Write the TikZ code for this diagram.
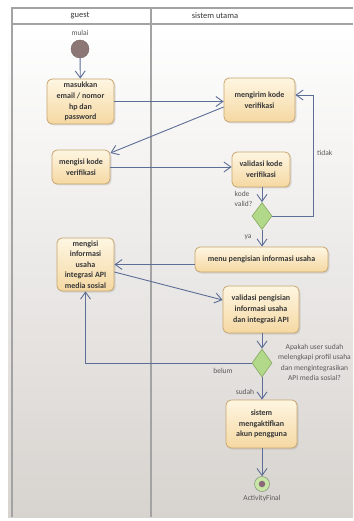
\documentclass[tikz,border=0pt]{standalone}
\usepackage{fontspec}
\setmainfont{Carlito}
\usetikzlibrary{arrows.meta,shapes.geometric,shadows}

\definecolor{framegray}{HTML}{A3A3A3}
\definecolor{lanebot}{HTML}{D7D3CF}
\definecolor{boxtop}{HTML}{FEF6E2}
\definecolor{boxbot}{HTML}{F5D8A2}
\definecolor{boxedge}{HTML}{C7A56E}
\definecolor{flow}{HTML}{5C6D96}
\definecolor{ink}{HTML}{383838}
\definecolor{note}{HTML}{5A5A5A}
\definecolor{decfill}{HTML}{B2D88A}
\definecolor{decedge}{HTML}{8BAE68}
\definecolor{startfill}{HTML}{8C7676}
\definecolor{finring}{HTML}{C9E6A6}
\definecolor{finedge}{HTML}{8A9A80}
\definecolor{findot}{HTML}{8A6A78}

\tikzset{
  lane/.style={draw=framegray, line width=1.3pt},
  act/.style={draw=boxedge, line width=0.8pt, rounded corners=5pt,
    top color=boxtop, bottom color=boxbot, text=ink, align=center,
    font=\fontsize{8}{10.8}\selectfont\bfseries, inner xsep=2pt, inner ysep=1pt,
    drop shadow={shadow xshift=1.5pt, shadow yshift=-1.5pt, opacity=0.22}},
  decision/.style={shape=diamond, draw=decedge, fill=decfill, line width=0.7pt,
    inner sep=0pt, minimum width=20pt, minimum height=27pt},
  arr/.style={draw=flow, line width=0.9pt,
    -{Straight Barb[length=7pt, width=10pt, line width=0.9pt]}},
  lbl/.style={font=\fontsize{7.5}{10}\selectfont, text=note, inner sep=0pt},
  head/.style={font=\fontsize{8.5}{10}\selectfont, text=ink, inner sep=0pt}
}

\begin{document}
\begin{tikzpicture}[x=1pt, y=-1pt]
  \useasboundingbox (0,0) rectangle (353,521);
  % background and swimlane frame
  \fill[white] (0,0) rectangle (353,521);
  \shade[top color=white, bottom color=lanebot] (8,24) rectangle (353,517);
  \draw[lane] (12,517) -- (12,8) -- (353,8);
  \draw[lane] (12,24) -- (353,24);
  \draw[lane] (151,8) -- (151,517);
  \node[head] (hguest) at (80,16) {guest};
  \node[head] (hsys) at (215,16) {sistem utama};

  % start
  \node[lbl] (lmulai) at (80,33) {mulai};
  \node[circle, fill=startfill, draw=startfill!85!black, line width=0.4pt,
        minimum size=18pt, inner sep=0pt] (start) at (80,49) {};

  % activities
  \node[act, minimum width=67pt, minimum height=45pt] (me) at (80.5,101.5)
    {masukkan\\email / nomor\\hp dan\\password};
  \node[act, minimum width=71pt, minimum height=44pt] (mg) at (259.5,100)
    {mengirim kode\\verifikasi};
  \node[act, minimum width=58pt, minimum height=34pt] (mk) at (81,167)
    {mengisi kode\\verifikasi};
  \node[act, minimum width=58pt, minimum height=35pt] (vk) at (261,169.5)
    {validasi kode\\verifikasi};
  \node[decision] (d1) at (262,216) {};
  \node[act, minimum width=133pt, minimum height=25pt] (menu) at (261.5,259.5)
    {menu pengisian informasi usaha};
  \node[act, minimum width=57pt, minimum height=53pt,
        font=\fontsize{8}{10.4}\selectfont\bfseries] (mi) at (85.5,264.5)
    {mengisi\\informasi\\usaha\\integrasi API\\media sosial};
  \node[act, minimum width=76pt, minimum height=47pt] (vp) at (261,309.5)
    {validasi pengisian\\informasi usaha\\dan integrasi API};
  \node[decision, minimum height=28pt] (d2) at (262,363) {};
  \node[act, minimum width=71pt, minimum height=48pt] (sa) at (261.5,424)
    {sistem\\mengaktifkan\\akun pengguna};

  % final node
  \node[circle, fill=finring, draw=finedge, line width=0.6pt,
        minimum size=15pt, inner sep=0pt] (fin) at (262,484) {};
  \node[circle, fill=findot, minimum size=6.5pt, inner sep=0pt] (findot) at (fin.center) {};
  \node[lbl] (lfin) at (262,498) {ActivityFinal};

  % control flows
  \draw[arr] (start) -- (me);
  \draw[arr] (me.east) -- (mg.west |- me.east);
  \draw[arr] ([yshift=-7pt]mg.west) -- ([yshift=14pt]mk.east);
  \draw[arr] (mk.east) -- (vk.west |- mk.east);
  \draw[arr] (vk.south -| d1.north) -- (d1.north);
  \draw[arr] (d1.east) -- ++(41,0) |- ([yshift=5pt]mg.east);
  \draw[arr] (d1.south) -- (menu.north -| d1.south);
  \draw[arr] (menu.west |- mi.east) -- (mi.east);
  \draw[arr] ([yshift=-7.5pt]mi.east) -- ([yshift=9.5pt]vp.west);
  \draw[arr] (vp.south -| d2.north) -- (d2.north);
  \draw[arr] (d2.west) -| (mi.south);
  \draw[arr] (d2.south) -- (sa.north -| d2.south);
  \draw[arr] (sa.south -| fin.north) -- (fin.north);

  % guard and decision labels
  \node[lbl, align=left] (lvalid) at (243.5,198.5) {kode\\valid?};
  \node[lbl, anchor=west] (ltidak) at (317,153) {tidak};
  \node[lbl] (lya) at (248,237) {ya};
  \node[lbl] (lbelum) at (223,371) {belum};
  \node[lbl] (lsudah) at (245,392) {sudah};
  \node[lbl, align=center, font=\fontsize{7.5}{10.3}\selectfont] (lquest) at (314.5,362.5)
    {Apakah user sudah\\melengkapi profil usaha\\dan mengintegrasikan\\API media sosial?};
\end{tikzpicture}
\end{document}
